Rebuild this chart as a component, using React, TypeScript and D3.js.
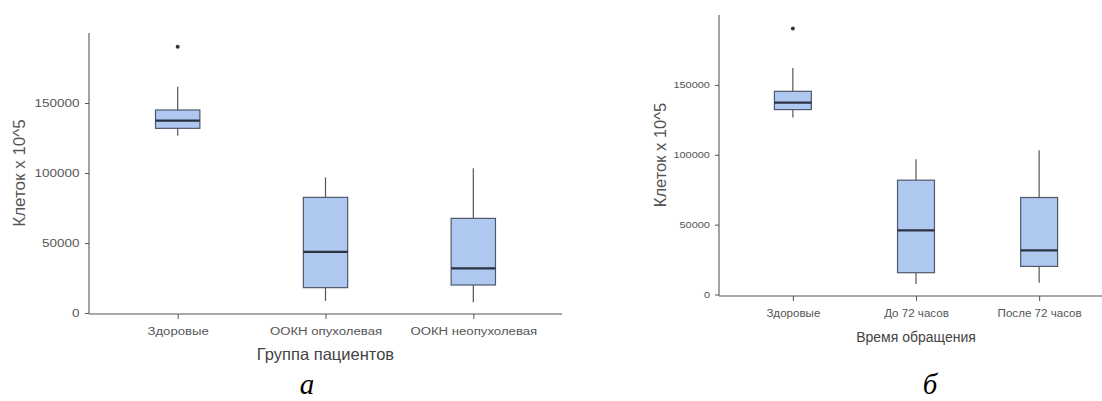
import React, { useEffect, useRef } from "react";
import * as d3 from "d3";

// panel "а": patient group
const categoriesA = ["Здоровые", "ООКН опухолевая", "ООКН неопухолевая"];
const lowA = [126600, 8600, 7600];
const q1A = [131900, 18100, 20000];
const medianA = [137400, 43600, 31900];
const q3A = [145000, 82600, 67600];
const highA = [161600, 96900, 103400];
const outliersA = [{ category: "Здоровые", value: 190200 }];

// panel "б": time of admission
const categoriesB = ["Здоровые", "До 72 часов", "После 72 часов"];
const lowB = [126600, 7500, 8400];
const q1B = [132300, 15600, 20100];
const medianB = [137300, 45900, 31600];
const q3B = [145400, 81800, 69400];
const highB = [162000, 96800, 103200];
const outliersB = [{ category: "Здоровые", value: 190400 }];

const yTicks = [0, 50000, 100000, 150000];
const yTitle = "Клеток х 10^5";
const xTitleA = "Группа пациентов";
const xTitleB = "Время обращения";

const SANS = "'Liberation Sans', Arial, sans-serif";
const FILL = "#aec8f0";
const EDGE = "#4f5868";
const MEDIAN = "#2a3142";
const AXIS = "#8c8c8c";

type Panel = {
  categories: string[];
  low: number[];
  q1: number[];
  median: number[];
  q3: number[];
  high: number[];
  outliers: { category: string; value: number }[];
  xTitle: string;
  letter: string;
  // layout
  left: number;
  right: number;
  top: number;
  zeroY: number;
  baseY: number;
  yTickFont: number;
  yTickScale: number;
  xTickFont: number;
  xTickScale: number;
  xTickPad: number;
  yTitleFont: number;
  yTitleX: number;
  yTitleY: number;
  xTitleFont: number;
  xTitleY: number;
  letterX: number;
};

const drawPanel = (svg: d3.Selection<SVGSVGElement, unknown, null, undefined>, p: Panel) => {
  const y = d3.scaleLinear().domain([0, 200000]).range([p.zeroY, p.top]);
  const x = d3.scalePoint<string>().domain(p.categories).range([p.left, p.right]).padding(0.6);
  const step = x.step();
  const bw = step * 0.3;
  const g = svg.append("g");

  // x axis
  const xa = g.append("g")
    .attr("transform", `translate(0,${p.baseY})`)
    .call(d3.axisBottom(x).tickSize(5).tickPadding(p.xTickPad));
  xa.select(".domain").attr("stroke", AXIS).attr("stroke-width", 1.6)
    .attr("d", `M${p.left},0H${p.right}`);
  xa.selectAll(".tick line").attr("stroke", "#555");
  xa.selectAll(".tick text")
    .attr("fill", "#555")
    .attr("font-family", SANS)
    .attr("font-size", p.xTickFont)
    .attr("transform", `scale(${p.xTickScale},1)`);

  // y axis
  const ya = g.append("g")
    .attr("transform", `translate(${p.left},0)`)
    .call(d3.axisLeft(y).tickValues(yTicks).tickSize(4).tickPadding(3).tickFormat(d3.format("d")));
  ya.select(".domain").attr("stroke", AXIS).attr("stroke-width", 1.6)
    .attr("d", `M0,${p.top}V${p.baseY}`);
  ya.selectAll(".tick line").attr("stroke", "#555");
  ya.selectAll(".tick text")
    .attr("fill", "#555")
    .attr("font-family", SANS)
    .attr("font-size", p.yTickFont)
    .attr("transform", `scale(${p.yTickScale},1)`);

  // boxes
  const rows = p.categories.map((c, i) => ({
    c, low: p.low[i], q1: p.q1[i], med: p.median[i], q3: p.q3[i], high: p.high[i],
  }));
  const box = g.selectAll("g.box").data(rows).join("g").attr("class", "box");
  box.append("line")
    .attr("x1", (d) => x(d.c)!).attr("x2", (d) => x(d.c)!)
    .attr("y1", (d) => y(d.high)).attr("y2", (d) => y(d.q3))
    .attr("stroke", "#555").attr("stroke-width", 1.2);
  box.append("line")
    .attr("x1", (d) => x(d.c)!).attr("x2", (d) => x(d.c)!)
    .attr("y1", (d) => y(d.q1)).attr("y2", (d) => y(d.low))
    .attr("stroke", "#555").attr("stroke-width", 1.2);
  box.append("rect")
    .attr("x", (d) => x(d.c)! - bw / 2).attr("width", bw)
    .attr("y", (d) => y(d.q3)).attr("height", (d) => y(d.q1) - y(d.q3))
    .attr("fill", FILL).attr("stroke", EDGE).attr("stroke-width", 1.2);
  box.append("line")
    .attr("x1", (d) => x(d.c)! - bw / 2).attr("x2", (d) => x(d.c)! + bw / 2)
    .attr("y1", (d) => y(d.med)).attr("y2", (d) => y(d.med))
    .attr("stroke", MEDIAN).attr("stroke-width", 2.2);

  g.selectAll("circle.out").data(p.outliers).join("circle")
    .attr("class", "out")
    .attr("cx", (d) => x(d.category)!).attr("cy", (d) => y(d.value))
    .attr("r", 2).attr("fill", "#333");

  // titles
  g.append("text")
    .attr("transform", `translate(${p.yTitleX},${p.yTitleY}) rotate(-90)`)
    .attr("text-anchor", "middle")
    .attr("font-family", SANS).attr("font-size", p.yTitleFont).attr("fill", "#555")
    .text(yTitle);
  const mid = (x(p.categories[0])! + x(p.categories[2])!) / 2;
  g.append("text")
    .attr("x", mid).attr("y", p.xTitleY)
    .attr("text-anchor", "middle")
    .attr("font-family", SANS).attr("font-size", p.xTitleFont).attr("fill", "#444")
    .text(p.xTitle);
  g.append("text")
    .attr("x", p.letterX).attr("y", 394)
    .attr("text-anchor", "middle")
    .attr("font-family", "'Liberation Serif', 'Times New Roman', serif")
    .attr("font-style", "italic").attr("font-size", 29).attr("fill", "#000")
    .text(p.letter);
};

const App: React.FC = () => {
  const svgRef = useRef<SVGSVGElement>(null);

  useEffect(() => {
    const svg = d3.select(svgRef.current!);
    svg.selectAll("*").remove();

    drawPanel(svg, {
      categories: categoriesA, low: lowA, q1: q1A, median: medianA, q3: q3A, high: highA,
      outliers: outliersA, xTitle: xTitleA, letter: "а",
      left: 89, right: 562, top: 33, zeroY: 313, baseY: 314,
      yTickFont: 10, yTickScale: 1.35, xTickFont: 11, xTickScale: 1.2, xTickPad: 8,
      yTitleFont: 17, yTitleX: 25, yTitleY: 173, xTitleFont: 16.5, xTitleY: 360, letterX: 307,
    });
    drawPanel(svg, {
      categories: categoriesB, low: lowB, q1: q1B, median: medianB, q3: q3B, high: highB,
      outliers: outliersB, xTitle: xTitleB, letter: "б",
      left: 719, right: 1113, top: 15, zeroY: 294.5, baseY: 296,
      yTickFont: 8.5, yTickScale: 1.29, xTickFont: 10, xTickScale: 1.16, xTickPad: 9,
      yTitleFont: 16.5, yTitleX: 666, yTitleY: 155, xTitleFont: 14, xTitleY: 342, letterX: 930,
    });
  }, []);

  return (
    <svg
      ref={svgRef}
      width={1102}
      height={401}
      style={{ position: "absolute", left: 0, top: 0, background: "#fff" }}
    />
  );
};

export default App;
